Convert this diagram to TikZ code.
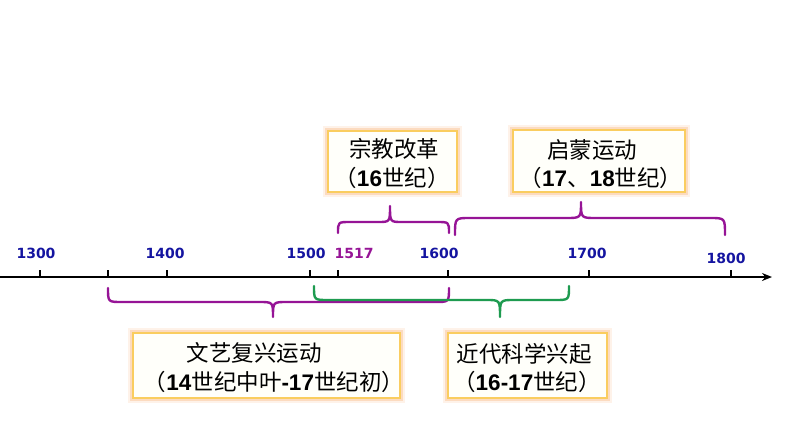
\documentclass[tikz,border=0pt]{standalone}
\usepackage{fontspec}
\setmainfont{Liberation Sans}
\newfontfamily\cjk{Noto Sans CJK SC}
\newfontfamily\axisfont{DejaVu Sans}
\usetikzlibrary{arrows.meta}
\definecolor{yearblue}{RGB}{20,20,160}
\definecolor{braceviolet}{RGB}{150,20,150}
\definecolor{bracegreen}{RGB}{30,155,80}
\definecolor{boxline}{RGB}{250,205,95}
\definecolor{glow}{RGB}{245,150,70}
\definecolor{boxfill}{RGB}{255,255,250}
\tikzset{
  glowbox/.style={draw=boxline, line width=1.8pt, fill=boxfill,
    preaction={draw=glow, line width=10pt, opacity=0.12},
    preaction={draw=glow, line width=6pt, opacity=0.25},
    inner sep=0pt},
  yearlabel/.style={font=\axisfont\bfseries\fontsize{14}{15}\selectfont, text=yearblue, inner sep=0pt},
  cjktext/.style={font=\cjk\fontsize{22.5}{26}\selectfont, inner sep=0pt},
  tickline/.style={line width=2pt},
  bracepath/.style={line width=2.4pt, line cap=round, line join=round},
}
\newcommand\bnum[1]{{\normalfont\bfseries #1}}
\begin{document}
\begin{tikzpicture}[x=1pt,y=-1pt]
\useasboundingbox (0,0) rectangle (794,447);
% axis
\coordinate (axstart) at (0,277);
\coordinate (axend) at (772,277);
\draw[line width=2.8pt, -{Stealth[length=10pt,width=8pt]}] (axstart) -- (axend);
\foreach \n/\x in {t1300/40, t1350/108, t1400/167, t1500/310, t1517/338, t1600/448, t1700/589, t1800/731}{
  \coordinate (\n) at (\x,277);
  \draw[tickline] (\n) -- ++(0,-7);
}
% year labels
\node[yearlabel] (y1300) at (36,253.5) {1300};
\node[yearlabel] (y1400) at (165,253.5) {1400};
\node[yearlabel] (y1500) at (306,253.5) {1500};
\node[yearlabel, text=braceviolet] (y1517) at (354,253.5) {1517};
\node[yearlabel] (y1600) at (439,253.5) {1600};
\node[yearlabel] (y1700) at (587,253.5) {1700};
\node[yearlabel] (y1800) at (726,258.5) {1800};
% braces (lower)
\draw[bracepath, braceviolet] (108,288) .. controls (108,302) .. (122,302) -- (259,302)
  .. controls (273,302) .. (273,317) .. controls (273,302) .. (287,302) -- (435,302)
  .. controls (449,302) .. (449,288);
\draw[bracepath, bracegreen] (314,286) .. controls (314,300) .. (328,300) -- (486,300)
  .. controls (500,300) .. (500,317) .. controls (500,300) .. (514,300) -- (555,300)
  .. controls (569,300) .. (569,286);
% braces (upper)
\draw[bracepath, braceviolet] (338,233) .. controls (338,222) .. (350,222) -- (378,222)
  .. controls (390,222) .. (390,206) .. controls (390,222) .. (402,222) -- (437,222)
  .. controls (449,222) .. (449,233);
\draw[bracepath, braceviolet] (455,235) .. controls (455,218) .. (470,218) -- (566,218)
  .. controls (581,218) .. (581,202) .. controls (581,218) .. (596,218) -- (710,218)
  .. controls (725,218) .. (725,235);
% boxes
\node[glowbox, minimum width=129pt, minimum height=61pt] (boxref) at (392.5,161.5) {};
\node[glowbox, minimum width=172pt, minimum height=62pt] (boxenl) at (599,161) {};
\node[glowbox, minimum width=267pt, minimum height=65pt] (boxren) at (266.5,365.5) {};
\node[glowbox, minimum width=159pt, minimum height=65pt] (boxsci) at (527.5,365.5) {};
% texts
\node[cjktext] (ref1) at (394,149) {宗教改革};
\node[cjktext] (ref2) at (392,178) {（\bnum{16}世纪）};
\node[cjktext] (enl1) at (592,150) {启蒙运动};
\node[cjktext] (enl2) at (601,178) {（\bnum{17}、\bnum{18}世纪）};
\node[cjktext] (ren1) at (254,353) {文艺复兴运动};
\node[cjktext] (ren2) at (274,382) {（\bnum{14}世纪中叶\bnum{-17}世纪初）};
\node[cjktext] (sci1) at (524,354) {近代科学兴起};
\node[cjktext] (sci2) at (527,382) {（\bnum{16-17}世纪）};
\end{tikzpicture}
\end{document}
